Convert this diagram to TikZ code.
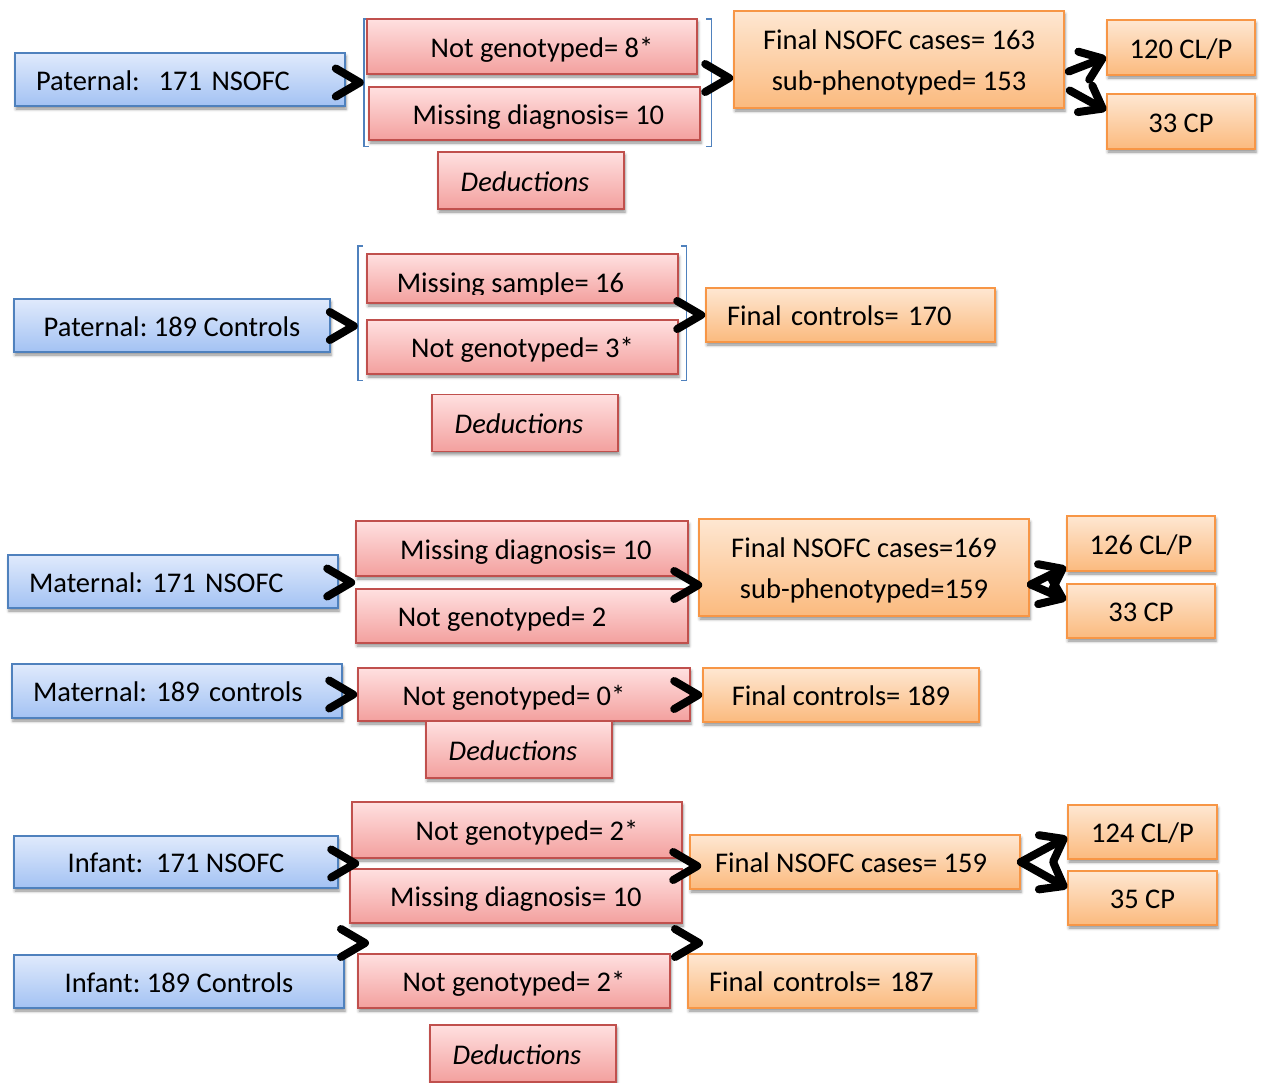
\documentclass[tikz,border=0pt]{standalone}
\usepackage{fontspec}
\setmainfont{Carlito}
\usetikzlibrary{calc,arrows.meta,shadows.blur}
\definecolor{blueTop}{RGB}{224,234,252}
\definecolor{blueBot}{RGB}{163,194,243}
\definecolor{blueLine}{RGB}{79,129,189}
\definecolor{redTop}{RGB}{255,224,224}
\definecolor{redBot}{RGB}{243,160,158}
\definecolor{redLine}{RGB}{192,80,77}
\definecolor{orTop}{RGB}{254,231,210}
\definecolor{orBot}{RGB}{251,186,126}
\definecolor{orLine}{RGB}{247,150,70}
\begin{document}
\frenchspacing
\begin{tikzpicture}[x=1pt,y=-1pt,
  font=\fontsize{28.5}{34}\selectfont,
  box/.style={draw, line width=1.6pt, inner sep=0pt, text height=25pt, text depth=4pt,
    blur shadow={shadow xshift=1pt, shadow yshift=-3pt, shadow blur radius=3pt, shadow opacity=45}},
  bluebox/.style={box, draw=blueLine, top color=blueTop, bottom color=blueBot},
  redbox/.style={box, draw=redLine, top color=redTop, bottom color=redBot},
  orbox/.style={box, draw=orLine, top color=orTop, bottom color=orBot},
  sz/.style 2 args={minimum width=#1pt, minimum height=#2pt},
  lft/.style={align=left, text width=#1pt, inner xsep=21pt},
  twoline/.style={text height=, text depth=, align=center, font=\fontsize{28.5}{41}\selectfont},
  chev/.style={draw=black, line width=8pt, line cap=round, line join=round,
    to path={($(\tikztotarget)+(-28,-14)$) -- ($(\tikztotarget)+(-4,0)$) -- ($(\tikztotarget)+(-28,14)$)}},
  split/.style={draw=black, line width=8pt, line cap=round, -{Straight Barb[length=20pt,width=30pt,round]}},
  brk/.style={draw=blueLine, line width=1.4pt},
  ded/.style={redbox, sz={186}{57}, font=\fontsize{28.5}{34}\selectfont\itshape}]
\useasboundingbox (0,0) rectangle (1261,1082);

% ---------- Row 1: Paternal NSOFC ----------
\node[inner sep=0pt, sz={347}{127}] (br1) at (537.5,82.5) {};
\draw[brk] ([xshift=5pt]br1.north west) -- (br1.north west) -- (br1.south west) -- ([xshift=5pt]br1.south west);
\draw[brk] ([xshift=-5pt]br1.north east) -- (br1.north east) -- (br1.south east) -- ([xshift=-5pt]br1.south east);
\node[bluebox, sz={330}{53}, lft=288] (p1) at (180,79.5) {Paternal:\ \ 171 NSOFC};
\node[redbox, sz={330}{55}] (p1a) at (532,46.5) {\hspace{20pt}Not genotyped= 8*};
\node[redbox, sz={331}{53}] (p1b) at (534.5,113.5) {\hspace{8pt}Missing diagnosis= 10};
\node[ded] (d1) at (531,180.5) {\hspace{-12pt}Deductions};
\node[orbox, sz={330}{97}, twoline] (f1) at (899,59.5)
  {\rule{0pt}{26pt}Final NSOFC cases= 163\\sub-phenotyped= 153\rule[-4pt]{0pt}{4pt}};
\node[orbox, sz={148}{55}] (cl1) at (1181,47.5) {120 CL/P};
\node[orbox, sz={148}{55}] (cp1) at (1181,121.5) {33 CP};
\coordinate (t1b) at ([yshift=-18.5pt]f1.west);
\draw[chev] (p1) to (br1.west);
\draw[chev] (br1) to (t1b);
\draw[split] ([xshift=4pt,yshift=-12pt]f1.east) -- ([yshift=-9.5pt]cl1.west);
\draw[split] ([xshift=5pt,yshift=-31pt]f1.east) -- ([yshift=11pt]cp1.west);

% ---------- Row 2: Paternal controls ----------
\node[inner sep=0pt, sz={328}{134}] (br2) at (522,313) {};
\draw[brk] ([xshift=5pt]br2.north west) -- (br2.north west) -- (br2.south west) -- ([xshift=5pt]br2.south west);
\draw[brk] ([xshift=-5pt]br2.north east) -- (br2.north east) -- (br2.south east) -- ([xshift=-5pt]br2.south east);
\node[bluebox, sz={316}{53}] (p2) at (172,325.5) {Paternal: 189 Controls};
\node[redbox, sz={311}{49}] (p2a) at (522.5,278.5) {};
\begin{scope}
  \clip (p2a.north west) rectangle ([yshift=-15.5pt]p2a.east);
  \node[text height=25pt, text depth=4pt, inner sep=0pt] (p2at) at (510.5,282) {Missing sample= 16};
\end{scope}
\node[redbox, sz={311}{54}] (p2b) at (522.5,347) {Not genotyped= 3*};
\node[ded] (d2) at (525,423) {\hspace{-12pt}Deductions};
\node[orbox, sz={289}{54}, lft=247] (f2) at (850.5,315) {Final controls= 170};
\coordinate (t2a) at ([yshift=-13pt]br2.west);
\draw[chev] (p2) to (t2a);
\draw[chev] (br2) to (f2.west);

% ---------- Row 3: Maternal NSOFC ----------
\node[bluebox, sz={330}{53}, lft=288] (m1) at (173,581.5) {Maternal: 171 NSOFC};
\node[redbox, sz={332}{55}] (m1a) at (522,548.5) {\hspace{8pt}Missing diagnosis= 10};
\node[redbox, sz={332}{54}] (m1b) at (522,616) {\hspace{-40pt}Not genotyped= 2};
\node[orbox, sz={330}{97}, twoline] (f3) at (864,567.5)
  {\rule{0pt}{26pt}Final NSOFC cases=169\\sub-phenotyped=159\rule[-4pt]{0pt}{4pt}};
\node[orbox, sz={148}{55}] (cl3) at (1141,543.5) {126 CL/P};
\node[orbox, sz={148}{54}] (cp3) at (1141,611) {33 CP};
\coordinate (t3a) at ($(m1a.south west)!0.5!(m1b.north west)$);
\coordinate (t3b) at ([xshift=4pt,yshift=-17.5pt]f3.west);
\draw[chev] (m1) to (t3a);
\draw[chev] (m1a) to (t3b);
\draw[split] ([xshift=1pt,yshift=-17pt]f3.east) -- ([yshift=-23.5pt]cl3.west);
\draw[split] ([xshift=1pt,yshift=-17pt]f3.east) -- ([yshift=11pt]cp3.west);

% ---------- Row 4: Maternal controls ----------
\node[bluebox, sz={330}{54}, lft=288] (m2) at (177,691) {Maternal: 189 controls};
\node[redbox, sz={332}{53}] (m2a) at (524,694.5) {\hspace{-20pt}Not genotyped= 0*};
\node[ded] (d4) at (519,749.5) {\hspace{-12pt}Deductions};
\node[orbox, sz={276}{54}] (f4) at (841,695) {Final controls= 189};
\draw[chev] (m2) to (m2a.west);
\draw[chev] (m2a) to (f4.west);

% ---------- Row 5: Infant NSOFC ----------
\node[bluebox, sz={324}{52}] (i1) at (176,862) {Infant:\ \ 171 NSOFC};
\node[redbox, sz={330}{56}] (i1a) at (517,830) {\hspace{20pt}Not genotyped= 2*};
\node[redbox, sz={332}{54}] (i1b) at (516,896) {Missing diagnosis= 10};
\node[orbox, sz={330}{54}] (f5) at (855,862) {\hspace{-8pt}Final NSOFC cases= 159};
\node[orbox, sz={149}{54}] (cl5) at (1142.5,832) {124 CL/P};
\node[orbox, sz={149}{54}] (cp5) at (1142.5,898) {35 CP};
\coordinate (t5a) at ($(i1a.south west)!0.5!(i1b.north west)+(9,0)$);
\coordinate (t5b) at ([xshift=12pt,yshift=-4pt]f5.west);
\draw[chev] (i1) to (t5a);
\draw[chev] (i1b) to (t5b);
\draw[split] (f5.east) -- ([yshift=-5pt]cl5.west);
\draw[split] (f5.east) -- ([yshift=10pt]cp5.west);

% ---------- Row 6: Infant controls ----------
\node[bluebox, sz={330}{53}] (i2) at (179,981.5) {Infant: 189 Controls};
\node[redbox, sz={312}{54}] (i2a) at (514,981) {Not genotyped= 2*};
\node[ded] (d6) at (523,1053.5) {\hspace{-12pt}Deductions};
\node[orbox, sz={288}{54}, lft=246] (f6) at (832,981) {Final controls= 187};
\coordinate (c6a) at (369,943);
\coordinate (c6b) at (703,943);
\draw[chev] (i2) to (c6a);
\draw[chev] (i2a) to (c6b);
\end{tikzpicture}
\end{document}
